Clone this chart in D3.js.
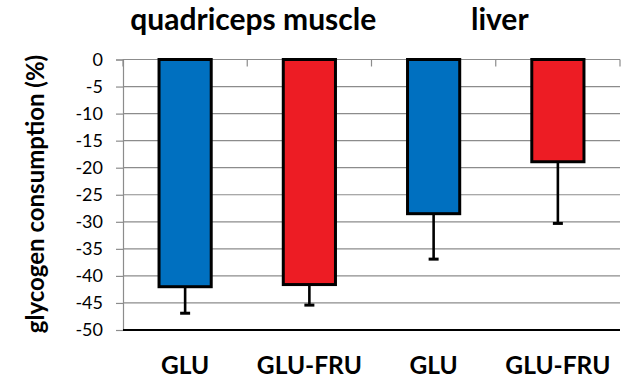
<!DOCTYPE html>
<html>
<head>
<meta charset="utf-8">
<script src="https://cdn.jsdelivr.net/npm/d3@7/dist/d3.min.js"></script>
<style>
  html, body { margin: 0; padding: 0; background: #fff; }
  svg { display: block; }
</style>
</head>
<body>
<svg id="chart" width="640" height="385"></svg>
<script>
// ---- data ----
const categories = ["GLU", "GLU-FRU", "GLU", "GLU-FRU"];
const groups = ["quadriceps muscle", "liver"];
const groupOf = [0, 0, 1, 1];
const values = [-42.0, -41.6, -28.5, -18.9];
const errors = [4.9, 3.8, 8.4, 11.4];
const barColors = ["#0070C0", "#ED1C24", "#0070C0", "#ED1C24"];
const yTicks = [0, -5, -10, -15, -20, -25, -30, -35, -40, -45, -50];
const yTitle = "glycogen consumption (%)";

// ---- layout ----
const svg = d3.select("#chart");
const mLeft = 123, mRight = 620, mTop = 59.5, mBottom = 330;
const ids = categories.map((c, i) => i);

const x = d3.scaleBand().domain(ids).range([mLeft, mRight])
  .paddingInner(0.58).paddingOuter(0.29);
const y = d3.scaleLinear().domain([-50, 0]).range([mBottom, mTop]);

// gridlines
svg.append("g")
  .selectAll("line").data(yTicks.filter(t => t !== -50)).join("line")
  .attr("x1", mLeft).attr("x2", mRight)
  .attr("y1", d => y(d)).attr("y2", d => y(d))
  .attr("stroke", "#8c8c8c").attr("stroke-width", 1.2);

// y axis
const yAxis = d3.axisLeft(y).tickValues(yTicks).tickSize(7).tickPadding(13)
  .tickFormat(d => d === 0 ? "0" : String(d));
const gy = svg.append("g").attr("transform", `translate(${mLeft},0)`).call(yAxis);
gy.select(".domain").attr("stroke", "#8c8c8c").attr("stroke-width", 1.2);
gy.selectAll(".tick line").attr("stroke", "#8c8c8c").attr("stroke-width", 1.2);
gy.selectAll(".tick text")
  .attr("font-family", "Lato, 'Open Sans', sans-serif")
  .attr("font-size", 18).attr("fill", "#000");

// category boundary ticks at zero line
const step = x.step();
const bounds = d3.range(categories.length + 1).map(i => mLeft + i * step);
svg.append("g").selectAll("line").data(bounds).join("line")
  .attr("x1", d => d).attr("x2", d => d)
  .attr("y1", y(0)).attr("y2", y(0) + 7)
  .attr("stroke", "#8c8c8c").attr("stroke-width", 1.2);

// bottom axis line
svg.append("line")
  .attr("x1", mLeft).attr("x2", mRight)
  .attr("y1", y(-50)).attr("y2", y(-50))
  .attr("stroke", "#000").attr("stroke-width", 2);

// error bars (downward)
const eb = svg.append("g");
ids.forEach(i => {
  const cx = x(i) + x.bandwidth() / 2;
  eb.append("line")
    .attr("x1", cx).attr("x2", cx)
    .attr("y1", y(values[i])).attr("y2", y(values[i] - errors[i]))
    .attr("stroke", "#000").attr("stroke-width", 2.6);
  eb.append("line")
    .attr("x1", cx - 5).attr("x2", cx + 5)
    .attr("y1", y(values[i] - errors[i])).attr("y2", y(values[i] - errors[i]))
    .attr("stroke", "#000").attr("stroke-width", 3);
});

// bars
svg.append("g").selectAll("rect").data(ids).join("rect")
  .attr("x", i => x(i))
  .attr("y", y(0))
  .attr("width", x.bandwidth())
  .attr("height", i => y(values[i]) - y(0))
  .attr("fill", i => barColors[i])
  .attr("stroke", "#000").attr("stroke-width", 3);

// category labels
svg.append("g").selectAll("text").data(ids).join("text")
  .attr("x", i => x(i) + x.bandwidth() / 2)
  .attr("y", 374)
  .attr("text-anchor", "middle")
  .attr("font-family", "Lato, 'Open Sans', sans-serif")
  .attr("font-weight", "bold").attr("font-size", 24.5)
  .text(i => categories[i]);

// group titles
svg.append("g").selectAll("text").data(groups).join("text")
  .attr("x", (g, gi) => {
    const members = ids.filter(i => groupOf[i] === gi);
    return d3.mean(members, i => x(i) + x.bandwidth() / 2) + (gi === 0 ? 6 : 4);
  })
  .attr("y", 30)
  .attr("text-anchor", "middle")
  .attr("font-family", "Lato, 'Open Sans', sans-serif")
  .attr("font-weight", "bold").attr("font-size", 30)
  .text(g => g);

// y title
svg.append("text")
  .attr("transform", "translate(44,194) rotate(-90)")
  .attr("text-anchor", "middle")
  .attr("font-family", "Lato, 'Open Sans', sans-serif")
  .attr("font-weight", "bold").attr("font-size", 24)
  .text(yTitle);
</script>
</body>
</html>
